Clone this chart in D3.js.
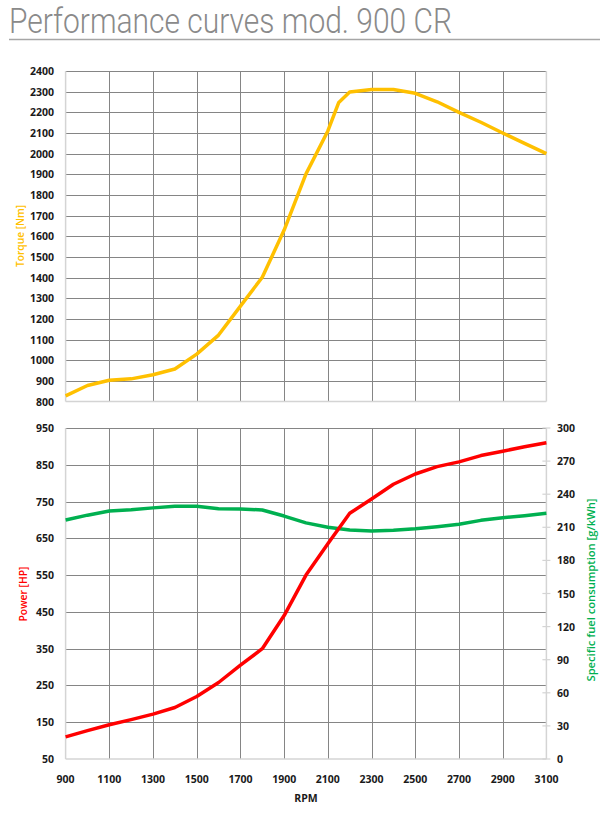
<!DOCTYPE html>
<html><head><meta charset="utf-8">
<script src="https://cdn.jsdelivr.net/npm/d3@7/dist/d3.min.js"></script>
<style>body{margin:0;background:#fff}svg{display:block}</style>
</head><body>
<svg id="c" width="600" height="813"></svg>
<script>
const title = "Performance curves mod. 900 CR";
const rpmTicks = [900,1100,1300,1500,1700,1900,2100,2300,2500,2700,2900,3100];
const torqueTicks = d3.range(800, 2401, 100);
const powerTicks = [50,150,250,350,450,550,650,750,850,950];
const fuelTicks = [0,30,60,90,120,150,180,210,240,270,300];

const torqueRpm = [900,1000,1100,1200,1300,1400,1500,1600,1700,1800,1900,2000,2100,2150,2200,2300,2400,2500,2600,2700,2800,2900,3000,3100];
const torqueNm  = [828,878,903,910,930,958,1030,1122,1262,1402,1630,1902,2110,2248,2298,2310,2310,2292,2251,2200,2152,2100,2050,2000];

const powerRpm = [900,1000,1100,1200,1300,1400,1500,1600,1700,1800,1900,2000,2100,2200,2300,2400,2500,2600,2700,2800,2900,3000,3100];
const powerHp  = [110,127,143,157,172,190,220,258,305,350,440,550,635,718,757,797,825,845,858,875,887,899,910];

const fuelRpm = [900,1000,1100,1200,1300,1400,1500,1600,1700,1800,1900,2000,2100,2200,2300,2400,2500,2600,2700,2800,2900,3000,3100];
const fuelGkwh = [216.6,221,224.8,225.9,227.6,229,229,226.8,226.6,225.7,220.2,214,210,207.6,206.6,207.4,208.7,210.5,212.7,216.3,218.7,220.5,222.7];

const svg = d3.select("#c");
const font = "'Open Sans', sans-serif";
const dark = "#858585", light = "#d4d4d4";

// title
svg.append("text").attr("x", 9).attr("y", 33)
  .attr("font-family", "Roboto, sans-serif").attr("font-weight", 300)
  .attr("font-size", 35).attr("fill", "#8a8a8a")
  .attr("textLength", 443).attr("lengthAdjust", "spacingAndGlyphs")
  .text(title);
svg.append("line").attr("x1", 9).attr("x2", 600).attr("y1", 39.5).attr("y2", 39.5)
  .attr("stroke", "#a6a6a6").attr("stroke-width", 1.5);

const x = d3.scaleLinear().domain([900, 3100]).range([65.6, 546.4]);
const yT = d3.scaleLinear().domain([800, 2400]).range([401.6, 71]);
const yP = d3.scaleLinear().domain([50, 950]).range([759, 428]);
const yF = d3.scaleLinear().domain([0, 300]).range([759, 428]);

function grid(g, yScale, yTicks, yTop, yBottom) {
  g.selectAll(null).data(yTicks.filter(t => yScale(t) < yBottom - 1)).enter().append("line")
    .attr("x1", x(900)).attr("x2", x(3100))
    .attr("y1", d => Math.round(yScale(d)) + 0.5).attr("y2", d => Math.round(yScale(d)) + 0.5)
    .attr("stroke", dark).attr("stroke-width", 1);
  g.selectAll(null).data(rpmTicks.filter(t => t > 900 && t < 3100)).enter().append("line")
    .attr("x1", d => Math.round(x(d)) + 0.5).attr("x2", d => Math.round(x(d)) + 0.5)
    .attr("y1", yTop).attr("y2", yBottom)
    .attr("stroke", dark).attr("stroke-width", 1);
  g.append("line").attr("x1", x(900)).attr("x2", x(900)).attr("y1", yTop).attr("y2", yBottom)
    .attr("stroke", light).attr("stroke-width", 1.5);
  g.append("line").attr("x1", x(3100)).attr("x2", x(3100)).attr("y1", yTop).attr("y2", yBottom)
    .attr("stroke", light).attr("stroke-width", 1.5);
  g.append("line").attr("x1", x(900)).attr("x2", x(3100)).attr("y1", yBottom).attr("y2", yBottom)
    .attr("stroke", light).attr("stroke-width", 1.5);
}

const g1 = svg.append("g");
grid(g1, yT, torqueTicks, yT(2400), yT(800));
const g2 = svg.append("g");
grid(g2, yP, powerTicks, yP(950), yP(50));
g2.selectAll(null).data(fuelTicks).enter().append("line")
  .attr("x1", x(3100) - 4).attr("x2", x(3100) + 4)
  .attr("y1", d => yF(d)).attr("y2", d => yF(d))
  .attr("stroke", light).attr("stroke-width", 1.2);

function leftLabels(scale, ticks) {
  svg.append("g").selectAll(null).data(ticks).enter().append("text")
    .attr("x", 54).attr("y", d => scale(d) + 4)
    .attr("text-anchor", "end").attr("font-family", font).attr("font-weight", 700)
    .attr("font-size", 10.5).attr("fill", "#1a1a1a").text(d => d);
}
leftLabels(yT, torqueTicks);
leftLabels(yP, powerTicks);
svg.append("g").selectAll(null).data(fuelTicks).enter().append("text")
  .attr("x", 557).attr("y", d => yF(d) + 4)
  .attr("text-anchor", "start").attr("font-family", font).attr("font-weight", 700)
  .attr("font-size", 10.5).attr("fill", "#1a1a1a").text(d => d);
svg.append("g").selectAll(null).data(rpmTicks).enter().append("text")
  .attr("x", d => x(d)).attr("y", 783)
  .attr("text-anchor", "middle").attr("font-family", font).attr("font-weight", 700)
  .attr("font-size", 10.5).attr("fill", "#1a1a1a").text(d => d);

svg.append("text").attr("x", 306).attr("y", 802).attr("text-anchor", "middle")
  .attr("font-family", font).attr("font-weight", 700).attr("font-size", 10.5).attr("fill", "#1a1a1a").text("RPM");

function vTitle(cx, cy, len, color, txt) {
  svg.append("text").attr("transform", `translate(${cx},${cy}) rotate(-90)`)
    .attr("x", -len / 2).attr("y", 0)
    .attr("font-family", font).attr("font-weight", 600).attr("font-size", 11.5).attr("fill", color)
    .attr("textLength", len).attr("lengthAdjust", "spacingAndGlyphs").text(txt);
}
vTitle(24, 236, 62, "#FFC000", "Torque [Nm]");
vTitle(27, 594, 55, "#FF0000", "Power [HP]");
vTitle(595, 590, 183, "#00B050", "Specific fuel consumption [g/kWh]");

function drawLine(xs, ys, yScale, color) {
  const data = xs.map((v, i) => [v, ys[i]]);
  svg.append("path").datum(data)
    .attr("d", d3.line().x(d => x(d[0])).y(d => yScale(d[1])))
    .attr("fill", "none").attr("stroke", color).attr("stroke-width", 3.5)
    .attr("stroke-linejoin", "round");
}
drawLine(torqueRpm, torqueNm, yT, "#FFC000");
drawLine(fuelRpm, fuelGkwh, yF, "#00B050");
drawLine(powerRpm, powerHp, yP, "#FF0000");
</script>
</body></html>
